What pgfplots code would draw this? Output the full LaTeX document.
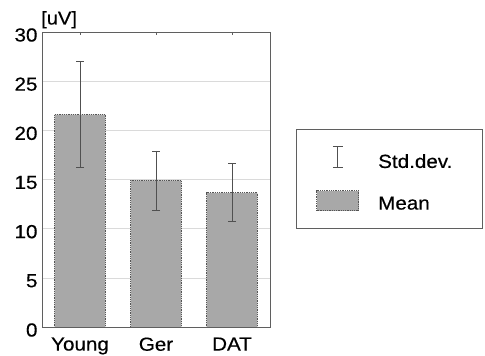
\documentclass[border=0pt]{standalone}
\usepackage{fontspec}
\setmainfont{Liberation Sans}[FakeStretch=1.09, FakeBold=0.4]
\usepackage{pgfplots}
\pgfplotsset{compat=1.18}
\definecolor{barfill}{RGB}{168,168,168}
\definecolor{bardraw}{RGB}{85,85,85}
\definecolor{errc}{RGB}{80,80,80}
\definecolor{axc}{RGB}{95,95,95}
\definecolor{gridc}{RGB}{218,218,218}
\begin{document}
\begin{tikzpicture}
\useasboundingbox (0,0) rectangle (485bp,356bp);
\begin{axis}[
  at={(42bp,29bp)}, anchor=south west,
  scale only axis, width=228bp, height=295bp,
  xmin=-0.5, xmax=2.5, ymin=0, ymax=30,
  ytick={0,5,...,30}, xtick={0,1,2}, xticklabels={Young,Ger,DAT},
  ymajorgrids, grid style={gridc, line width=0.6bp},
  axis line style={axc, line width=0.8bp},
  tick align=inside,
  ytick style={draw=none},
  xtick style={axc, line width=0.6bp}, major tick length=3bp,
  /pgf/number format/assume math mode=true,
  tick label style={font=\fontsize{19}{22}\selectfont},
  yticklabel style={xshift=-1bp, yshift=-3bp},
  xticklabel style={yshift=-7bp},
  ylabel={[uV]},
  every axis y label/.style={at={(axis description cs:0,1)}, anchor=south west, inner sep=0pt, xshift=-1bp, yshift=3.5bp, font=\fontsize{18.5}{20}\selectfont},
  legend style={at={(axis description cs:1.114,0.671)}, anchor=north west,
    draw=axc, line width=0.8bp, inner xsep=20bp, inner ysep=17bp,
    row sep=21bp, column sep=19bp, font=\fontsize{19}{22}\selectfont,
    nodes={inner sep=0pt}},
  legend cell align=left,
]
\addlegendimage{legend image code/.code={
  \draw[errc, line width=0.7bp] (21bp,-6bp) -- (21bp,15bp);
  \draw[errc, line width=0.7bp] (16bp,-6bp) -- (26bp,-6bp);
  \draw[errc, line width=0.7bp] (16bp,15bp) -- (26bp,15bp);}}
\addlegendentry{\makebox[84bp][l]{Std.dev.}}
\addplot[ybar, bar width=0.667, fill=barfill, draw=bardraw, densely dotted, line width=0.8bp,
  legend image code/.code={\draw[fill=barfill, draw=bardraw, densely dotted, line width=0.8bp] (0bp,-7bp) rectangle (42bp,13bp);},
  error bars/.cd, y dir=both, y explicit,
  error bar style={errc, line width=0.7bp, solid},
  error mark options={errc, rotate=90, mark size=4bp, solid, line width=0.7bp}]
  coordinates {(0,21.6) +- (0,5.4) (1,14.9) +- (0,3.0) (2,13.65) +- (0,2.95)};
\addlegendentry{Mean}
\end{axis}
\end{tikzpicture}
\end{document}
